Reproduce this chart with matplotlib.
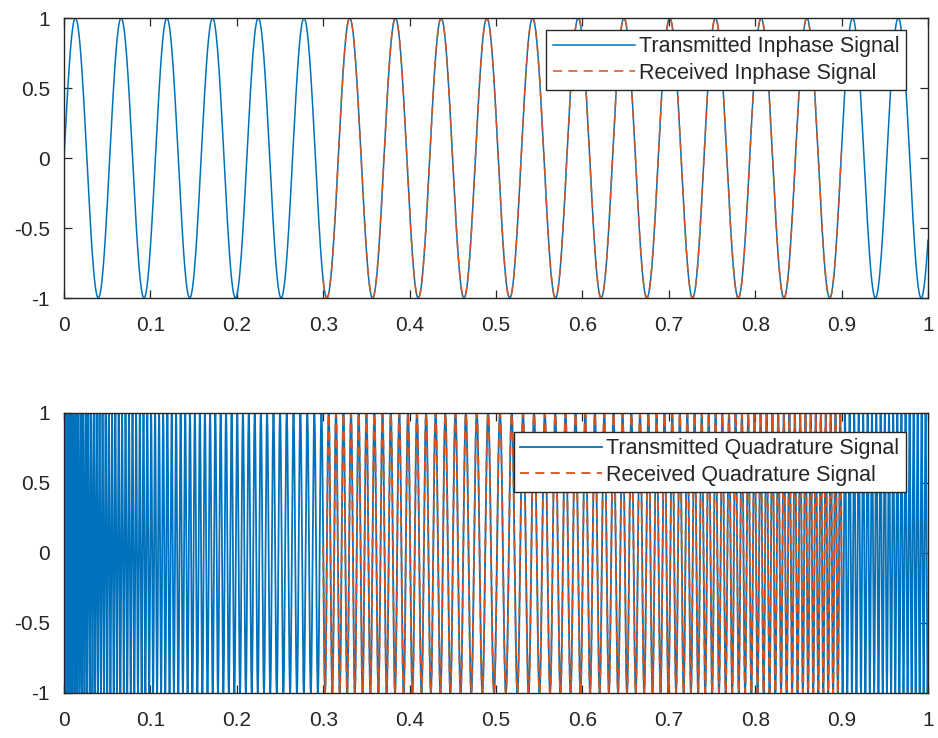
import numpy as np
import matplotlib
matplotlib.use("Agg")
import matplotlib.pyplot as plt

# Sampling grid over one second
sample_rate = 20000
duration = 1.0

# Inphase carrier frequency read from the peak spacing (Hz)
inphase_freq = 18.9

# Apparent quadrature frequency read at a few times along the bottom trace
quad_knot_times = [0.0, 0.05, 0.15, 0.25, 0.35, 0.45, 0.5, 0.65, 0.8, 0.95, 1.0]
quad_knot_freqs = [400, 270, 175, 130, 110, 85, 72, 97, 140, 205, 220]

# Window in which the received signal was captured
rx_start = 0.3
rx_stop = 0.9

# Labels
top_labels = ["Transmitted Inphase Signal", "Received Inphase Signal"]
bottom_labels = ["Transmitted Quadrature Signal", "Received Quadrature Signal"]
x_ticks = [0, 0.1, 0.2, 0.3, 0.4, 0.5, 0.6, 0.7, 0.8, 0.9, 1]
y_ticks = [-1, -0.5, 0, 0.5, 1]


def style_axes(ax):
    ax.set_xlim(0, 1)
    ax.set_ylim(-1, 1)
    ax.set_xticks(x_ticks)
    ax.set_xticklabels(["0", "0.1", "0.2", "0.3", "0.4", "0.5", "0.6", "0.7", "0.8", "0.9", "1"])
    ax.set_yticks(y_ticks)
    ax.set_yticklabels(["-1", "-0.5", "0", "0.5", "1"])
    ax.tick_params(direction="in", length=6, width=0.9, top=True, right=True,
                   colors="#262626", labelsize=15)
    ax.tick_params(axis="x", pad=13)
    ax.tick_params(axis="y", pad=10)
    for spine in ax.spines.values():
        spine.set_color("#262626")
        spine.set_linewidth(1.0)


def add_legend(ax, top_gap):
    leg = ax.legend(loc="upper right", bbox_to_anchor=((906 - 64) / 864, 1 - top_gap / 280),
                    borderaxespad=0, fancybox=False, framealpha=1, edgecolor="#262626",
                    fontsize=15.5, handlelength=3.8, labelspacing=0.25, borderpad=0.3,
                    handletextpad=0.2)
    leg.get_frame().set_linewidth(1.0)
    for txt in leg.get_texts():
        txt.set_color("#262626")


def main():
    t = np.arange(0, duration + 1e-9, 1.0 / sample_rate)
    rx = (t >= rx_start) & (t <= rx_stop)

    # Inphase signal
    tx_i = np.sin(2 * np.pi * inphase_freq * t)

    # Quadrature signal: integrate the read-off frequency profile into a phase
    f_q = np.interp(t, quad_knot_times, quad_knot_freqs)
    phase = 2 * np.pi * np.cumsum(f_q) / sample_rate
    tx_q = np.sin(phase - phase[0])

    plt.rcParams["font.family"] = ["Liberation Sans", "DejaVu Sans"]
    fig = plt.figure(figsize=(9.38, 7.38), dpi=100)
    ax1 = fig.add_axes([64 / 938, 1 - 298 / 738, 864 / 938, 280 / 738])
    ax2 = fig.add_axes([64 / 938, 1 - 693 / 738, 864 / 938, 280 / 738])

    blue = "#0072BD"
    red = "#D95319"

    ax1.plot(t, tx_i, color=blue, lw=1.1, label=top_labels[0])
    ax1.plot(t[rx], tx_i[rx], color=red, lw=1.1, dashes=(6, 4), label=top_labels[1])
    ax2.plot(t, tx_q, color=blue, lw=1.3, label=bottom_labels[0])
    ax2.plot(t[rx], tx_q[rx], color=red, lw=1.3, dashes=(5, 3.5), label=bottom_labels[1])

    for ax in (ax1, ax2):
        style_axes(ax)

    # Legends in the upper right corner
    add_legend(ax1, 12)
    add_legend(ax2, 19)

    fig.savefig("out.png", dpi=100)


if __name__ == "__main__":
    main()
